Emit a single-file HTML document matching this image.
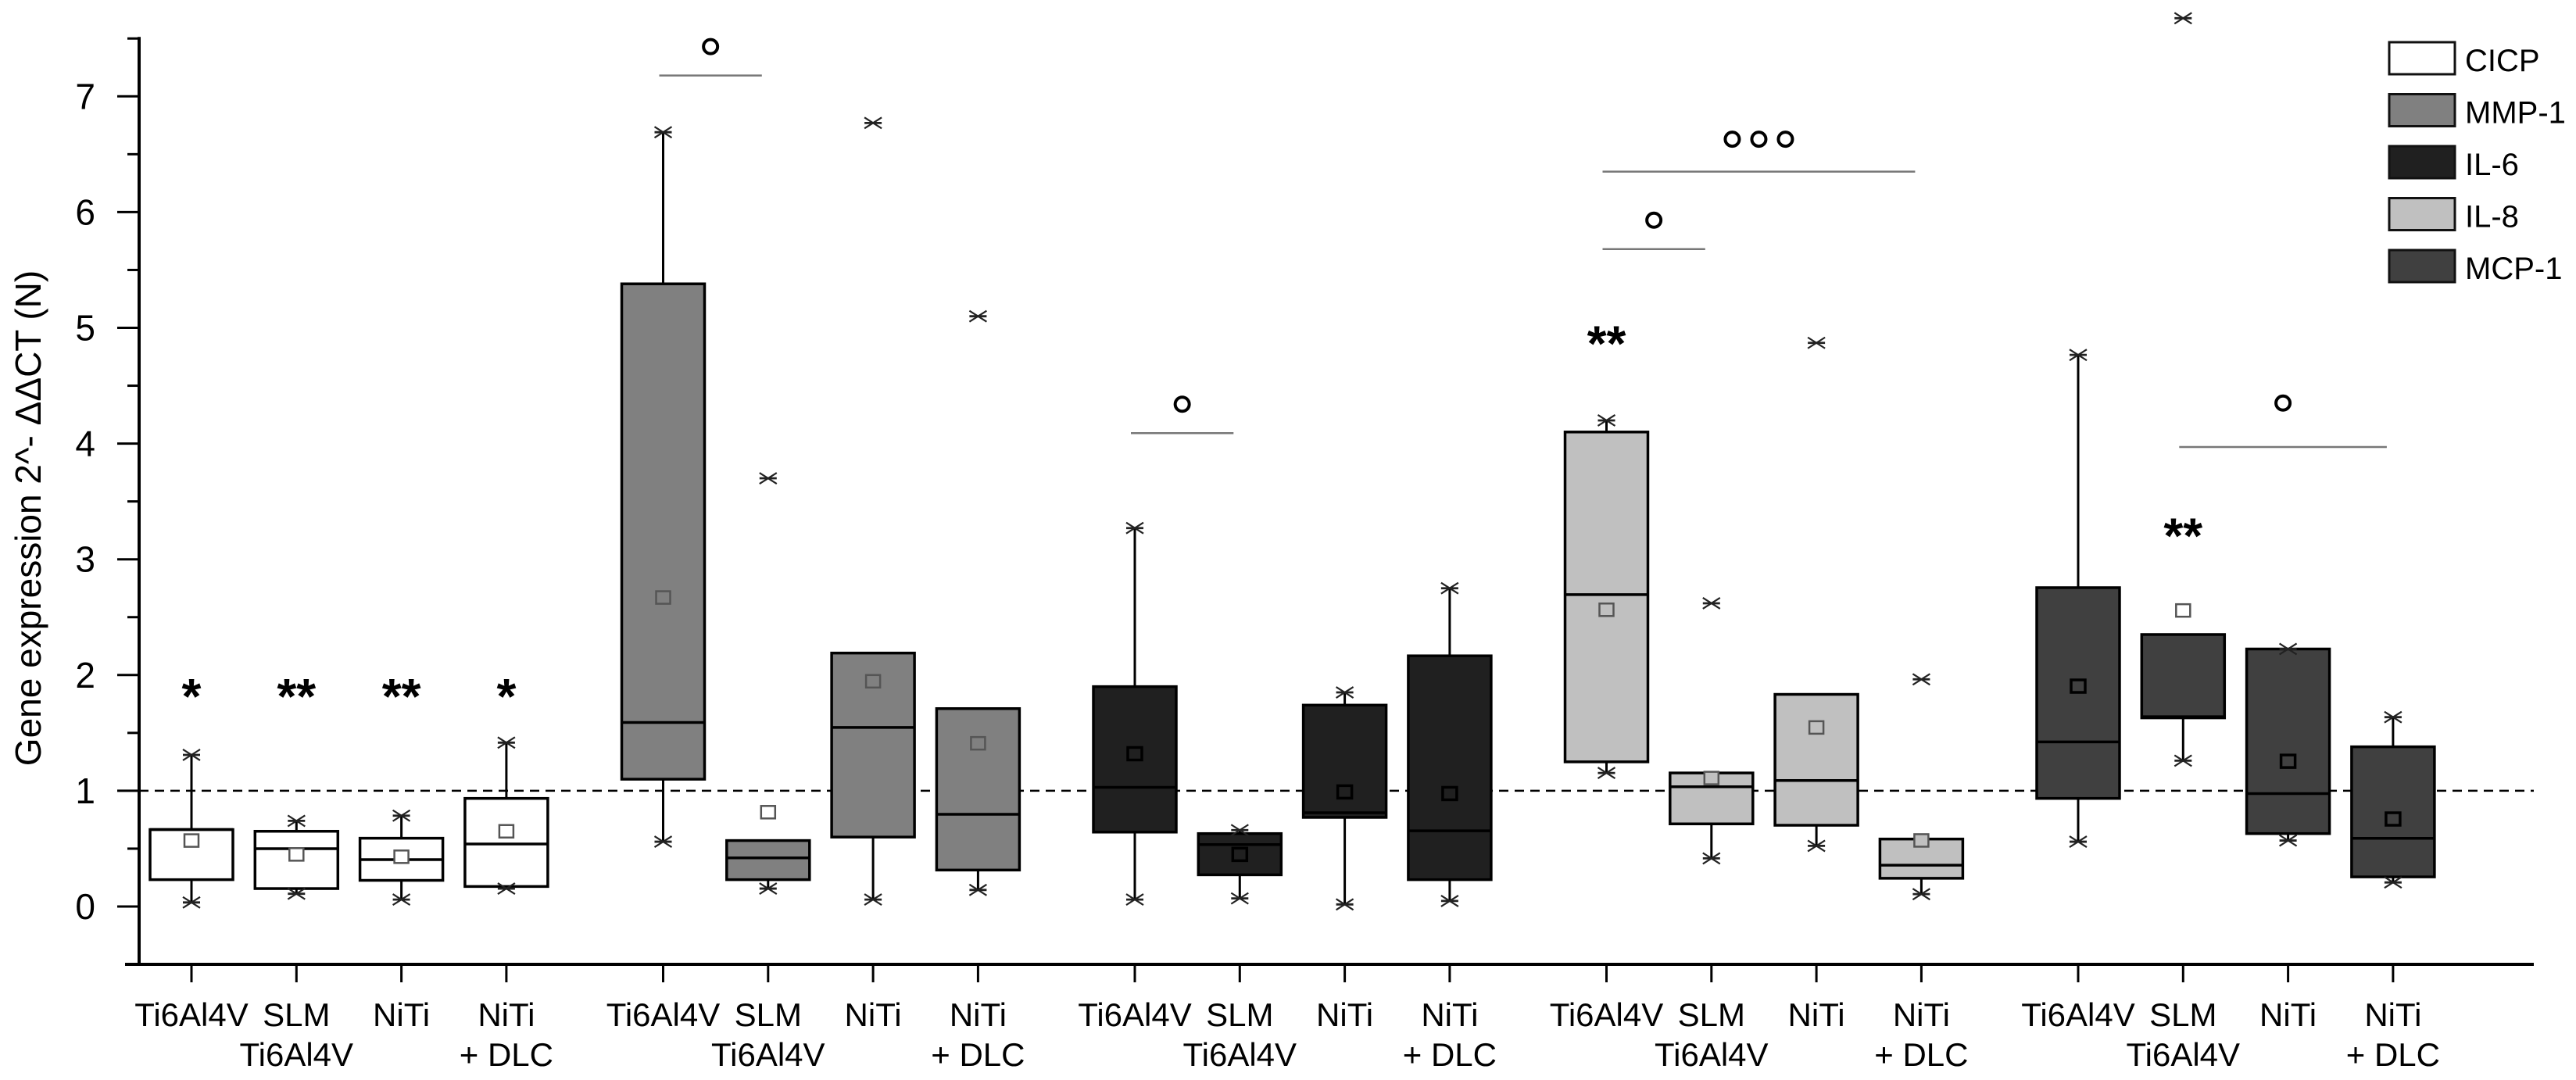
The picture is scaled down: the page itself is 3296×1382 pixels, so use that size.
<!DOCTYPE html>
<html><head><meta charset="utf-8"><style>
html,body{margin:0;padding:0;background:#fff;}
svg{display:block;font-family:"Liberation Sans",Arial,sans-serif;}
</style></head><body>
<svg id="chart" width="3296" height="1382" viewBox="0 0 3296 1382" xmlns="http://www.w3.org/2000/svg"></svg>
<script>
const genes = ["CICP","MMP-1","IL-6","IL-8","MCP-1"];
const geneColors = ["#ffffff","#808080","#202020","#c0c0c0","#404040"];
const materials = [["Ti6Al4V"],["SLM","Ti6Al4V"],["NiTi"],["NiTi","+ DLC"]];
const yTicks = [0,1,2,3,4,5,6,7];
// per gene, per material: [q1, median, q3, whiskerLow, whiskerHigh, minMark, maxMark, mean]
const cicpStats = [[0.232,0.665,0.665,0.035,1.31,0.035,1.31,0.57],[0.155,0.5,0.65,0.11,0.74,0.11,0.74,0.45],[0.226,0.405,0.59,0.06,0.785,0.06,0.785,0.43],[0.173,0.54,0.934,0.155,1.416,0.155,1.416,0.65]];
const mmp1Stats = [[1.10,1.59,5.38,0.56,6.69,0.56,6.69,2.67],[0.232,0.42,0.57,0.155,0.57,0.155,3.70,0.815],[0.60,1.547,2.19,0.06,2.19,0.06,6.77,1.946],[0.315,0.797,1.71,0.143,1.71,0.143,5.10,1.41]];
const il6Stats = [[0.643,1.03,1.90,0.06,3.27,0.06,3.27,1.32],[0.274,0.535,0.63,0.07,0.66,0.07,0.66,0.45],[0.77,0.81,1.74,0.018,1.85,0.018,1.85,0.99],[0.232,0.654,2.166,0.048,2.75,0.048,2.75,0.976]];
const il8Stats = [[1.25,2.695,4.10,1.154,4.20,1.154,4.20,2.564],[0.714,1.035,1.154,0.416,1.154,0.416,2.62,1.11],[0.702,1.089,1.833,0.524,1.833,0.524,4.87,1.547],[0.244,0.357,0.583,0.107,0.583,0.107,1.963,0.571]];
const mcp1Stats = [[0.934,1.422,2.755,0.56,4.766,0.56,4.766,1.904],[1.63,1.64,2.35,1.26,2.35,1.26,7.675,2.558],[0.63,0.976,2.225,0.57,2.225,0.57,2.225,1.255],[0.256,0.589,1.38,0.208,1.636,0.208,1.636,0.756]];
const allStats = [cicpStats,mmp1Stats,il6Stats,il8Stats,mcp1Stats];
// significance stars: [gene, material, value, text]
const stars = [[0,0,1.91,"*"],[0,1,1.91,"**"],[0,2,1.91,"**"],[0,3,1.91,"*"],[3,0,4.96,"**"],[4,1,3.30,"**"]];
// brackets: [gene, fromMaterial, toMaterial, lineValue, circleValue, circleCount]
const brackets = [[1,0,1,7.18,7.43,1],[2,0,1,4.09,4.34,1],[3,0,1,5.68,5.93,1],[3,0,3,6.35,6.63,3],[4,1,3,3.97,4.35,1]];

const NS="http://www.w3.org/2000/svg";
const svg=document.getElementById('chart');
function yS(v){return 1160 - v*148.1;}
function xS(g,i){return 245 + g*603.5 + i*134.3;}
function mk(tag,attrs,parent){const e=document.createElementNS(NS,tag);for(const k in attrs)e.setAttribute(k,attrs[k]);(parent||svg).appendChild(e);return e;}

const yAxis=mk('line',{x1:178,y1:yS(7.5)-2,x2:178,y2:yS(-0.5),stroke:'#000','stroke-width':4});


const xAxis=mk('line',{x1:160,y1:yS(-0.5),x2:3242,y2:yS(-0.5),stroke:'#000','stroke-width':4});


for(let v=0;v<=7.5;v+=0.5){
  const major=Number.isInteger(v);
  const t=mk('line',{x1:major?150:163,y1:yS(v),x2:178,y2:yS(v),stroke:'#000','stroke-width':3});
  
  
}
yTicks.forEach(v=>{
  const t=mk('text',{x:122,y:yS(v)+16,'text-anchor':'end','font-size':46,fill:'#000'});
  t.textContent=v;
  
  
});
const yt=mk('text',{x:0,y:0,'text-anchor':'middle','font-size':46,fill:'#000',transform:'translate(52,663) rotate(-90)'});
yt.textContent='Gene expression 2^- ΔΔCT (N)';



const ref=mk('line',{x1:178,y1:yS(1),x2:3242,y2:yS(1),stroke:'#000','stroke-width':2.5,'stroke-dasharray':'12 8'});



function marker(x,y,parent){
  const g=mk('g',{stroke:'#222','stroke-width':2.2},parent);
  mk('line',{x1:x-11,y1:y-7,x2:x+11,y2:y+7},g);
  mk('line',{x1:x-11,y1:y+7,x2:x+11,y2:y-7},g);
  mk('line',{x1:x-11,y1:y,x2:x+11,y2:y,'stroke-width':2.8},g);
  
  
}

allStats.forEach((geneStats,g)=>{
  geneStats.forEach((s,i)=>{
    const cx=xS(g,i), w=106;
    const grp=mk('g',{});
    
    
    const [q1,med,q3,wl,wh,mn,mx,mean]=s;
    mk('line',{x1:cx,y1:yS(wh),x2:cx,y2:yS(wl),stroke:'#000','stroke-width':3},grp);
    mk('rect',{x:cx-w/2,y:yS(q3),width:w,height:yS(q1)-yS(q3),fill:geneColors[g],stroke:'#000','stroke-width':3.5},grp);
    mk('line',{x1:cx-w/2,y1:yS(med),x2:cx+w/2,y2:yS(med),stroke:'#000','stroke-width':3.5},grp);
    const inside = mean>=q1 && mean<=q3;
    const dark = g===2||g===4;
    mk('rect',{x:cx-9,y:yS(mean)-8,width:18,height:16,fill:inside?geneColors[g]:'#ffffff',stroke:dark&&inside?'#000':'#555','stroke-width':dark&&inside?3.5:2.5},grp);
    marker(cx,yS(mn),grp);
    marker(cx,yS(mx),grp);
  });
  materials.forEach((lab,i)=>{
    const cx=xS(g,i);
    const t=mk('line',{x1:cx,y1:yS(-0.5),x2:cx,y2:1257,stroke:'#000','stroke-width':3});
    
    
    lab.forEach((ln,k)=>{
      const tx=mk('text',{x:cx,y:1313+k*51,'text-anchor':'middle','font-size':42,fill:'#000'});
      tx.textContent=ln;
      
      
    });
  });
});

stars.forEach(s=>{
  const t=mk('text',{x:xS(s[0],s[1]),y:yS(s[2])+36,'text-anchor':'middle','font-size':64,'font-weight':'bold',fill:'#000'});
  t.textContent=s[3];
  
  
});
brackets.forEach(b=>{
  const x1=xS(b[0],b[1])-5, x2=xS(b[0],b[2])-8;
  const l=mk('line',{x1:x1,y1:yS(b[3]),x2:x2,y2:yS(b[3]),stroke:'#777','stroke-width':2.5});
  
  
  const mid=(x1+x2)/2;
  for(let k=0;k<b[5];k++){
    const c=mk('circle',{cx:mid+(k-(b[5]-1)/2)*34,cy:yS(b[4]),r:9,fill:'none',stroke:'#000','stroke-width':4});
    
    
  }
});

const lg=mk('g',{});


genes.forEach((name,k)=>{
  const y=54+k*66.5;
  const e=mk('g',{},lg);
  
  
  mk('rect',{x:3057,y:y,width:84,height:41,fill:geneColors[k],stroke:'#111','stroke-width':3},e);
  const t=mk('text',{x:3154,y:y+37,'font-size':40,fill:'#000'},e);
  t.textContent=name;
});
</script>
</body></html>
